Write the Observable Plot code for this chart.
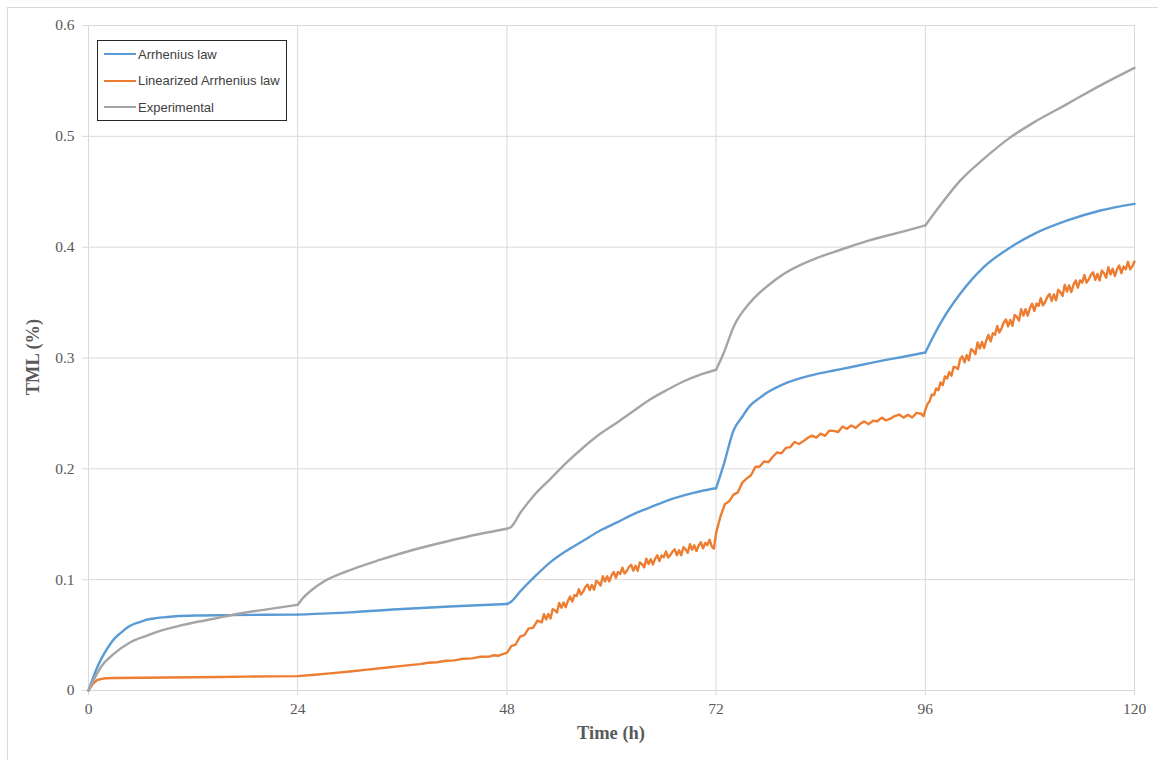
<!DOCTYPE html>
<html>
<head>
<meta charset="utf-8">
<script src="https://cdn.jsdelivr.net/npm/d3@7"></script>
<script src="https://cdn.jsdelivr.net/npm/@observablehq/plot@0.6"></script>
<style>
  html, body { margin: 0; padding: 0; background: #fff; }
  #wrap { position: relative; width: 1158px; height: 760px; overflow: hidden; }
  #frame { position: absolute; left: 7px; top: 7px; width: 1170px; height: 780px; border: 1px solid #d9d9d9; box-sizing: border-box; }
  #chart { position: absolute; left: 0; top: 0; }
  .title { position: absolute; font-family: "Liberation Serif", "Times New Roman", serif; font-weight: bold; font-size: 18.5px; color: #595959; white-space: nowrap; }
  #xtitle { left: 611px; top: 733px; transform: translate(-50%, -50%); }
  #ytitle { left: 33px; top: 357px; transform: translate(-50%, -50%) rotate(-90deg); }
  #legend { position: absolute; left: 97px; top: 40px; width: 190px; height: 81px; border: 1px solid #262626; background: #fff; box-sizing: border-box; }
  .item { position: absolute; left: 6px; height: 20px; display: flex; align-items: center; font-family: "Liberation Sans", Arial, sans-serif; font-size: 13px; color: #404040; white-space: nowrap; }
  .swatch { width: 32px; height: 0; border-top: 2.5px solid; margin-right: 2px; }
</style>
</head>
<body>
<div id="wrap">
  <div id="frame"></div>
  <div id="chart"></div>
  <div id="xtitle" class="title">Time (h)</div>
  <div id="ytitle" class="title">TML (%)</div>
  <div id="legend"></div>
</div>
<script>
// ---- data ----
const xTicks = [0, 24, 48, 72, 96, 120];
const yTicks = [0, 0.1, 0.2, 0.3, 0.4, 0.5, 0.6];
const seriesNames = ["Arrhenius law", "Linearized Arrhenius law", "Experimental"];
const seriesColors = ["#5B9BD5", "#ED7D31", "#A5A5A5"];
const cycleStarts = [24, 48, 72, 96]; // times where the curves change regime (sharp corners)

const arrhenius = [
  [0,0],[0.5,0.011],[1,0.021],[1.5,0.029],[2,0.036],[2.5,0.042],[3,0.047],[3.7,0.052],[4.5,0.057],[5.2,0.060],
  [6,0.062],[6.7,0.064],[7.5,0.065],[8.6,0.066],[10,0.067],[12.5,0.0677],[16,0.068],[20,0.0683],[24,0.0685],
  [30,0.0705],[36,0.0735],[42,0.076],[48,0.078],[48.4,0.0797],[49.6,0.090],[51.1,0.102],[53,0.1158],[54.9,0.1263],
  [56.8,0.1353],[58.7,0.1444],[60.7,0.1519],[62.6,0.1594],[64.5,0.1654],[66.4,0.1714],[68.3,0.176],[70.2,0.1798],
  [72,0.1825],[72.9,0.2045],[74,0.2346],[75,0.247],[75.9,0.257],[77,0.264],[77.9,0.269],[79.8,0.2767],[81.7,0.2818],
  [83.6,0.2857],[85.5,0.2887],[87.4,0.2917],[89.3,0.2948],[91.2,0.2978],[93.2,0.3007],[96,0.3050],[97.7,0.3308],
  [100,0.3579],[102.7,0.382],[105.8,0.400],[108.5,0.412],[112.3,0.4241],[116.1,0.4331],[120,0.4391]
];

const linearized = [
  [0,0],[0.5,0.006],[1,0.0095],[1.5,0.0105],[2,0.011],[3,0.0113],[6,0.0115],[9,0.0117],[12,0.012],[15,0.0122],
  [18,0.0125],[21,0.0127],[24,0.013],[26,0.0142],[28,0.0157],[30,0.0172],[32,0.0188],[34,0.0205],[36,0.0222],
  [38,0.0238],[39,0.0250],[40,0.0255],[41,0.0268],[42,0.0272],[43,0.0287],[44,0.0290],[45,0.0305],[46,0.0306],
  [46.5,0.0318],[47,0.0313],[47.5,0.0328],[48,0.034],
  [48.5,0.040],[49,0.0415],[49.5,0.0485],[50,0.050],[50.5,0.056],[51,0.0565],[51.5,0.063],[52,0.0615],
  [52.25,0.0689],[52.5,0.0641],[52.75,0.0690],[53,0.0650],[53.25,0.0733],[53.5,0.0724],[53.75,0.0703],[54,0.0790],
  [54.25,0.0747],[54.5,0.0795],[54.75,0.0752],[55,0.0808],[55.25,0.0847],[55.5,0.0802],[55.75,0.0861],[56,0.0852],
  [56.25,0.0913],[56.5,0.0865],[56.75,0.0894],[57,0.0934],[57.25,0.0956],[57.5,0.0906],[57.75,0.0952],[58,0.0910],
  [58.25,0.0988],[58.5,0.0974],[58.75,0.0948],[59,0.1030],[59.25,0.0984],[59.5,0.1030],[59.75,0.0984],[60,0.1038],
  [60.25,0.1070],[60.5,0.1017],[60.75,0.1069],[61,0.1052],[61.25,0.1108],[61.5,0.1055],[61.75,0.1079],[62,0.1114],
  [62.25,0.1134],[62.5,0.1081],[62.75,0.1125],[63,0.1080],[63.25,0.1156],[63.5,0.1139],[63.75,0.1111],[64,0.1190],
  [64.25,0.1142],[64.5,0.1185],[64.75,0.1137],[65,0.1188],[65.25,0.1220],[65.5,0.1167],[65.75,0.1219],[66,0.1202],
  [66.25,0.1255],[66.5,0.1200],[66.75,0.1221],[67,0.1254],[67.25,0.1274],[67.5,0.1221],[67.75,0.1265],[68,0.1220],
  [68.25,0.1293],[68.5,0.1274],[68.75,0.1243],[69,0.1320],[69.25,0.1269],[69.5,0.1310],[69.75,0.1259],[70,0.1308],
  [70.25,0.1337],[70.5,0.1282],[70.75,0.1331],[71,0.1312],[71.25,0.1360],[71.5,0.1300],[71.75,0.1280],
  [72,0.142],[72.5,0.157],[73,0.1680],[73.5,0.1707],[74,0.1767],[74.5,0.1788],[75,0.1875],[75.5,0.1912],
  [76,0.1942],[76.5,0.2017],[77,0.2021],[77.5,0.2066],[78,0.2060],[78.5,0.2109],[79,0.2148],[79.5,0.2140],
  [80,0.2189],[80.5,0.2196],[81,0.2242],[81.5,0.2224],[82,0.2248],[82.5,0.2278],[83,0.2300],[83.5,0.2282],
  [84,0.2317],[84.5,0.2298],[85,0.2345],[85.5,0.2342],[86,0.2332],[86.5,0.2382],[87,0.2361],[87.5,0.2391],
  [88,0.2370],[88.5,0.2404],[89,0.2428],[89.5,0.2403],[90,0.2434],[90.5,0.2429],[91,0.2462],[91.5,0.2437],
  [92,0.2453],[92.5,0.2476],[93,0.2490],[93.5,0.2462],[94,0.2487],[94.5,0.2463],[95,0.2505],[95.5,0.2497],
  [95.8,0.2475],[96,0.253],
  [96.25,0.2585],[96.5,0.2610],[96.75,0.2670],[97,0.2665],[97.25,0.2725],[97.5,0.2710],[97.75,0.2780],[98,0.2755],
  [98.25,0.2833],[98.5,0.2815],[98.75,0.2873],[99,0.2840],[99.25,0.2920],[99.5,0.2915],[99.75,0.2900],[100,0.2990],
  [100.25,0.3015],[100.5,0.2960],[100.75,0.3025],[101,0.2980],[101.25,0.3080],[101.5,0.3065],[101.75,0.3035],[102,0.3140],
  [102.25,0.3085],[102.5,0.3145],[102.75,0.3090],[103,0.3160],[103.25,0.3208],[103.5,0.3150],[103.75,0.3223],[104,0.3210],
  [104.25,0.3288],[104.5,0.3230],[104.75,0.3268],[105,0.3320],[105.25,0.3348],[105.5,0.3285],[105.75,0.3343],[106,0.3290],
  [106.25,0.3388],[106.5,0.3370],[106.75,0.3338],[107,0.3440],[107.25,0.3383],[107.5,0.3440],[107.75,0.3383],[108,0.3450],
  [108.25,0.3490],[108.5,0.3425],[108.75,0.3490],[109,0.3470],[109.25,0.3540],[109.5,0.3475],[109.75,0.3505],[110,0.3550],
  [110.25,0.3578],[110.5,0.3515],[110.75,0.3573],[111,0.3520],[111.25,0.3615],[111.5,0.3595],[111.75,0.3560],[112,0.3660],
  [112.25,0.3600],[112.5,0.3655],[112.75,0.3595],[113,0.3660],[113.25,0.3700],[113.5,0.3635],[113.75,0.3700],[114,0.3680],
  [114.25,0.3748],[114.5,0.3680],[114.75,0.3708],[115,0.3750],[115.25,0.3773],[115.5,0.3705],[115.75,0.3758],[116,0.3700],
  [116.25,0.3790],[116.5,0.3765],[116.75,0.3725],[117,0.3820],[117.25,0.3755],[117.5,0.3805],[117.75,0.3740],[118,0.3800],
  [118.25,0.3835],[118.5,0.3765],[118.75,0.3825],[119,0.3800],[119.25,0.3868],[119.5,0.3800],[119.75,0.3828],[120,0.3870]
];

const experimental = [
  [0,0],[0.5,0.008],[1.4,0.021],[2.9,0.033],[4.8,0.0436],[6.7,0.0496],[8.5,0.0545],[10.6,0.0587],[12.5,0.062],
  [14.4,0.0647],[16.7,0.0686],[20.1,0.0728],[24,0.0773],[24.7,0.0842],[25.5,0.090],[27,0.0983],[29.7,0.1077],
  [33.5,0.118],[37.3,0.127],[41.2,0.1347],[45,0.1414],[48,0.146],[48.4,0.147],[49.6,0.161],[51.1,0.176],[53,0.191],
  [54.9,0.206],[56.8,0.2195],[58.7,0.2316],[60.7,0.242],[62.6,0.2526],[64.5,0.263],[66.4,0.2713],[68.3,0.279],
  [70.2,0.285],[72,0.2894],[72.9,0.305],[74,0.328],[75.9,0.350],[77.9,0.365],[79.8,0.376],[81.7,0.384],
  [83.6,0.3904],[85.5,0.3955],[87.4,0.4006],[89.3,0.4054],[91.2,0.4096],[93.2,0.4135],[96,0.4196],[97.7,0.4376],
  [100,0.460],[102.7,0.4797],[105.8,0.4993],[108.5,0.5128],[112.3,0.5293],[116.1,0.546],[120,0.5618]
];

// split smooth series at the regime changes so each piece is smoothed separately (sharp corners kept)
function segmented(s, name) {
  const out = [];
  s.forEach(([t, v]) => {
    const seg = cycleStarts.filter(c => t > c).length;
    out.push({series: name, seg: name + seg, t, v});
    if (cycleStarts.includes(t)) out.push({series: name, seg: name + (seg + 1), t, v});
  });
  return out;
}
const smoothRows = [...segmented(arrhenius, seriesNames[0]), ...segmented(experimental, seriesNames[2])];
const noisyRows = linearized.map(([t, v]) => ({series: seriesNames[1], t, v}));

const serif = '"Liberation Serif", "Times New Roman", serif';

const chart = Plot.plot({
  width: 1158,
  height: 760,
  marginLeft: 88,
  marginRight: 24,
  marginTop: 25,
  marginBottom: 70,
  style: {background: "transparent", overflow: "visible"},
  x: {domain: [0, 120]},
  y: {domain: [0, 0.6]},
  color: {domain: seriesNames, range: seriesColors},
  marks: [
    Plot.gridX(xTicks, {stroke: "#d9d9d9", strokeOpacity: 1}),
    Plot.gridY(yTicks, {stroke: "#d9d9d9", strokeOpacity: 1}),
    Plot.axisX({ticks: xTicks, tickSize: 5, tickPadding: 7, stroke: "#d9d9d9", fill: "#595959",
      fontSize: 15.5, fontFamily: serif, label: null, tickFormat: d => String(d)}),
    Plot.axisY({ticks: yTicks, tickSize: 6, tickPadding: 8, stroke: "#d9d9d9", fill: "#595959",
      fontSize: 15.5, fontFamily: serif, label: null, tickFormat: d => String(d)}),
    Plot.line(noisyRows, {x: "t", y: "v", z: "series", stroke: "series", strokeWidth: 2.4,
      strokeLinejoin: "round", strokeLinecap: "round"}),
    Plot.line(smoothRows, {x: "t", y: "v", z: "seg", stroke: "series", strokeWidth: 2.4,
      curve: "monotone-x", strokeLinejoin: "round", strokeLinecap: "round"})
  ]
});
document.getElementById("chart").appendChild(chart);

// legend
const legend = document.getElementById("legend");
seriesNames.forEach((name, i) => {
  const item = document.createElement("div");
  item.className = "item";
  item.style.top = (3 + i * 26.5) + "px";
  const sw = document.createElement("span");
  sw.className = "swatch";
  sw.style.borderTopColor = seriesColors[i];
  const label = document.createElement("span");
  label.textContent = name;
  item.appendChild(sw);
  item.appendChild(label);
  legend.appendChild(item);
});
</script>
</body>
</html>
